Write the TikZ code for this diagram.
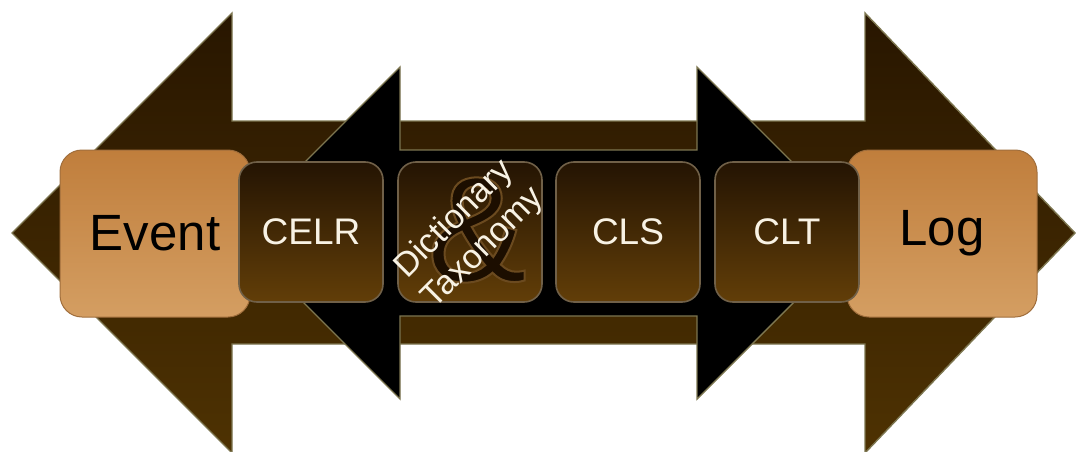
\documentclass[tikz,border=0pt]{standalone}
\usepackage{fontspec}
\setmainfont{Liberation Sans}
\definecolor{arrowtop}{RGB}{40,22,0}
\definecolor{arrowbot}{RGB}{78,50,2}
\definecolor{arrowedge}{RGB}{125,118,80}
\definecolor{boxtop}{RGB}{36,20,3}
\definecolor{boxbot}{RGB}{98,62,8}
\definecolor{boxedge}{RGB}{112,96,72}
\definecolor{tantop}{RGB}{192,126,60}
\definecolor{tanbot}{RGB}{212,158,98}
\definecolor{tanedge}{RGB}{160,110,60}
\definecolor{cream}{RGB}{248,242,228}
\definecolor{ampfill}{RGB}{28,14,0}
\newcommand{\outlinedamp}{\special{pdf:literal direct 0.42 0.29 0.12 RG 2 w 2 Tr}\&\special{pdf:literal direct 0 Tr}}
\tikzset{
  darkbox/.style={draw=boxedge, line width=1.6pt, rounded corners=18pt,
    top color=boxtop, bottom color=boxbot, minimum width=144pt,
    minimum height=140pt, inner sep=0pt, text=cream,
    font=\fontsize{37}{40}\selectfont},
  tanbox/.style={draw=tanedge, line width=1pt, rounded corners=22pt,
    top color=tantop, bottom color=tanbot, minimum width=190pt,
    minimum height=167pt, inner sep=0pt, text=black,
    font=\fontsize{51}{56}\selectfont},
  arrowline/.style={draw=arrowedge, line width=1.4pt, line join=miter},
}
\begin{document}
\begin{tikzpicture}[x=1pt,y=1pt]
\useasboundingbox (0,0) rectangle (1076,451);
\begin{scope}
\clip (0,0) rectangle (1076,451);
% outer brown double arrow
\shade[top color=arrowtop, bottom color=arrowbot]
  (12,218) -- (232,438) -- (232,330) -- (865,330) -- (865,438) -- (1075,218)
  -- (865,-2) -- (865,107) -- (232,107) -- (232,-2) -- cycle;
\draw[arrowline]
  (12,218) -- (232,438) -- (232,330) -- (865,330) -- (865,438) -- (1075,218)
  -- (865,-2) -- (865,107) -- (232,107) -- (232,-2) -- cycle;
% inner black double arrow
\filldraw[fill=black, arrowline]
  (234,218) -- (400,384) -- (400,301) -- (697,301) -- (697,384) -- (863,218)
  -- (697,52) -- (697,135) -- (400,135) -- (400,52) -- cycle;
\end{scope}
% end boxes
\node[tanbox] (event) at (155,217.5) {Event};
\node[tanbox] (log) at (942,217.5) {Log};
% dark boxes
\node[darkbox] (celr) at (311,219) {CELR};
\node[darkbox] (dict) at (470,219) {};
\node[darkbox] (cls) at (628,219) {CLS};
\node[darkbox] (clt) at (787,219) {CLT};
% ampersand behind the text
\node[text=ampfill, font=\fontsize{150}{150}\selectfont, inner sep=0pt]
  (amp) at ([xshift=7pt, yshift=2pt]dict.center) {\outlinedamp};
\node[rotate=45, align=center, text=cream, inner sep=0pt,
  font=\fontsize{34}{41}\selectfont] (dicttext) at ([xshift=-1pt,yshift=-2pt]dict.center)
  {Dictionary\\Taxonomy};
\end{tikzpicture}
\end{document}
